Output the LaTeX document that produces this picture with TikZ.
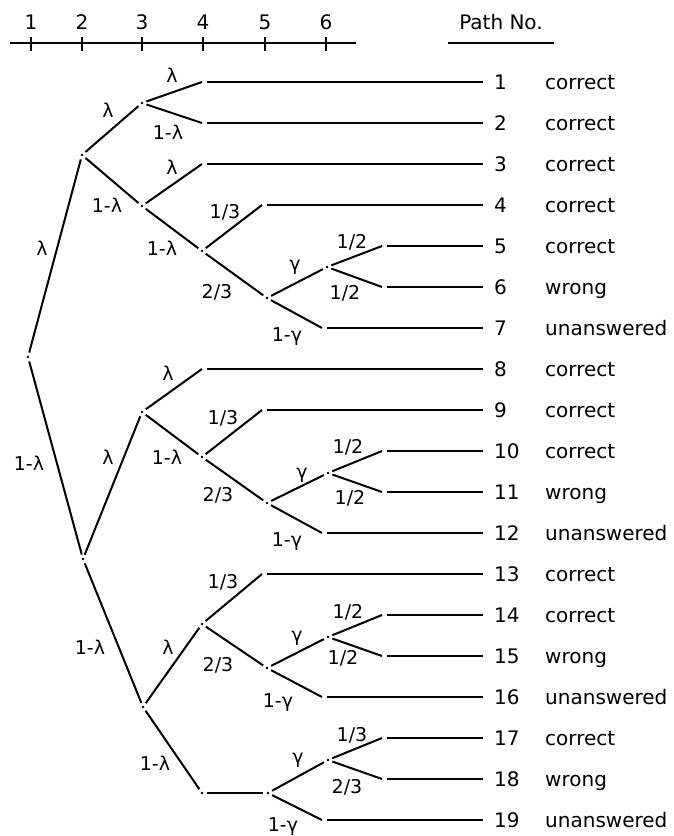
\documentclass[tikz,border=0pt]{standalone}
\usepackage{fontspec}
\setmainfont{DejaVu Sans}
\usetikzlibrary{positioning}

\begin{document}
\begin{tikzpicture}[
  x=1pt,y=-1pt,
  every node/.style={font=\fontsize{20}{23}\selectfont},
  dot/.style={circle,fill,inner sep=0pt,minimum size=2.8pt},
  br/.style={line width=2pt,shorten <=3pt,shorten >=3pt},
  brl/.style={line width=2pt,shorten <=3pt},
  leaf/.style={line width=1.7pt,shorten <=5pt},
  axis/.style={line width=1.5pt},
  lbl/.style={inner sep=0pt,font=\fontsize{19}{21}\selectfont},
  pno/.style={anchor=base west,inner sep=0pt},
  word/.style={anchor=base west,inner sep=0pt},
]
\useasboundingbox (0,0) rectangle (673,836);

% stage axis
\coordinate (ax0) at (10,43);
\coordinate (ax1) at (356,43);
\draw[axis] (ax0) -- (ax1);
\foreach \n/\x in {1/31,2/82,3/142,4/203,5/265,6/326}{
  \node (t\n) at (\x,22) {\n};
  \draw[axis] (\x,37) -- (\x,51);
}
\node (hdr) at (501,22) {Path No.};
\coordinate (ul0) at (448,43);
\coordinate (ul1) at (554,43);
\draw[axis] (ul0) -- (ul1);

% branch points
\node[dot] (R)     at (28,357)  {};
\node[dot] (A)     at (82,155)  {};
\node[dot] (B)     at (83,559)  {};
\node[dot] (A1)    at (142,103) {};
\node[dot] (A2)    at (142,206) {};
\node[dot] (A22)   at (202,251) {};
\node[dot] (A222)  at (267,298) {};
\node[dot] (A2221) at (327,267) {};
\node[dot] (B1)    at (142,412) {};
\node[dot] (B12)   at (202,457) {};
\node[dot] (B122)  at (267,503) {};
\node[dot] (B1221) at (328,473) {};
\node[dot] (B2)    at (143,707) {};
\node[dot] (B21)   at (202,624) {};
\node[dot] (B212)  at (267,668) {};
\node[dot] (B2121) at (328,637) {};
\node[dot] (B22)   at (202,793) {};
\node[dot] (B221)  at (268,793) {};
\node[dot] (B2211) at (328,760) {};

% paths: leaf end, number, outcome
\foreach \k/\xe/\res in {1/202/correct,2/202/correct,3/202/correct,
    4/262/correct,5/382/correct,6/382/wrong,7/322/unanswered,
    8/202/correct,9/262/correct,10/382/correct,11/382/wrong,
    12/322/unanswered,13/262/correct,14/382/correct,15/382/wrong,
    16/322/unanswered,17/382/correct,18/382/wrong,19/322/unanswered}{
  \coordinate (lf\k) at (\xe,{82+41*(\k-1)});
  \coordinate (le\k) at (483,{82+41*(\k-1)});
  \node[pno] (p\k) at (494,{89+41*(\k-1)}) {\k};
  \node[word] (w\k) at (545,{89+41*(\k-1)}) {\res};
  \draw[leaf] (lf\k) -- (le\k);
}

% branches
\draw[br] (R) -- (A);
\draw[br] (R) -- (B);
\draw[br] (A) -- (A1);
\draw[br] (A) -- (A2);
\draw[brl] (A1) -- (lf1);
\draw[brl] (A1) -- (lf2);
\draw[brl] (A2) -- (lf3);
\draw[br] (A2) -- (A22);
\draw[brl] (A22) -- (lf4);
\draw[br] (A22) -- (A222);
\draw[br] (A222) -- (A2221);
\draw[brl] (A222) -- (lf7);
\draw[brl] (A2221) -- (lf5);
\draw[brl] (A2221) -- (lf6);
\draw[br] (B) -- (B1);
\draw[br] (B) -- (B2);
\draw[brl] (B1) -- (lf8);
\draw[br] (B1) -- (B12);
\draw[brl] (B12) -- (lf9);
\draw[br] (B12) -- (B122);
\draw[br] (B122) -- (B1221);
\draw[brl] (B122) -- (lf12);
\draw[brl] (B1221) -- (lf10);
\draw[brl] (B1221) -- (lf11);
\draw[br] (B2) -- (B21);
\draw[br] (B2) -- (B22);
\draw[brl] (B21) -- (lf13);
\draw[br] (B21) -- (B212);
\draw[br] (B212) -- (B2121);
\draw[brl] (B212) -- (lf16);
\draw[brl] (B2121) -- (lf14);
\draw[brl] (B2121) -- (lf15);
\draw[br,line width=1.5pt] (B22) -- (B221);
\draw[br] (B221) -- (B2211);
\draw[brl] (B221) -- (lf19);
\draw[brl] (B2211) -- (lf17);
\draw[brl] (B2211) -- (lf18);

% probabilities
\node[lbl] (lRA)    at (42,248)  {λ};
\node[lbl] (lRB)    at (29,463)  {1-λ};
\node[lbl] (lA1)    at (108,110) {λ};
\node[lbl] (lA2)    at (107,205) {1-λ};
\node[lbl] (l1)     at (172,75)  {λ};
\node[lbl] (l2)     at (168,132) {1-λ};
\node[lbl] (l3)     at (172,167) {λ};
\node[lbl] (lA22)   at (162,248) {1-λ};
\node[lbl] (l4)     at (225,212) {1/3};
\node[lbl] (lA222)  at (217,292) {2/3};
\node[lbl] (lA2221) at (295,267) {γ};
\node[lbl] (l7)     at (287,337) {1-γ};
\node[lbl] (l5)     at (352,242) {1/2};
\node[lbl] (l6)     at (345,293) {1/2};
\node[lbl] (lB1)    at (108,457) {λ};
\node[lbl] (l8)     at (168,373) {λ};
\node[lbl] (lB12)   at (167,457) {1-λ};
\node[lbl] (l9)     at (223,418) {1/3};
\node[lbl] (lB122)  at (218,495) {2/3};
\node[lbl] (lB1221) at (302,475) {γ};
\node[lbl] (l10)    at (348,447) {1/2};
\node[lbl] (l11)    at (350,498) {1/2};
\node[lbl] (l12)    at (287,542) {1-γ};
\node[lbl] (lB2)    at (90,647)  {1-λ};
\node[lbl] (lB21)   at (168,647) {λ};
\node[lbl] (l13)    at (223,582) {1/3};
\node[lbl] (lB212)  at (218,665) {2/3};
\node[lbl] (lB2121) at (297,638) {γ};
\node[lbl] (l14)    at (348,612) {1/2};
\node[lbl] (l15)    at (343,658) {1/2};
\node[lbl] (l16)    at (278,703) {1-γ};
\node[lbl] (lB22)   at (155,763) {1-λ};
\node[lbl] (lB2211) at (298,760) {γ};
\node[lbl] (l17)    at (352,735) {1/3};
\node[lbl] (l18)    at (347,787) {2/3};
\node[lbl] (l19)    at (283,827) {1-γ};
\end{tikzpicture}
\end{document}
